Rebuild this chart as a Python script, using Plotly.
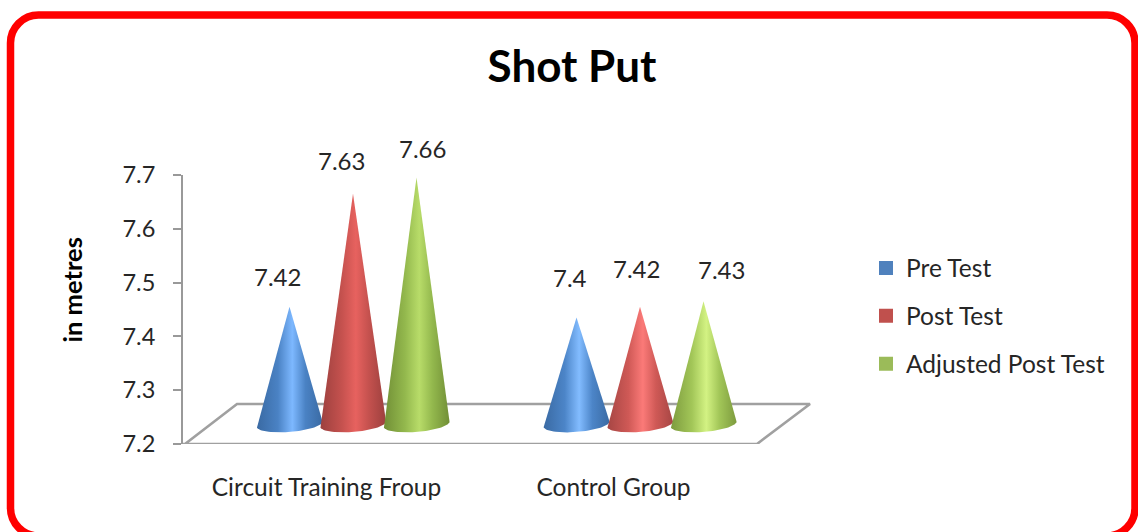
import numpy as np
import plotly.graph_objects as go

categories = ["Circuit Training Froup", "Control Group"]
series_names = ["Pre Test", "Post Test", "Adjusted Post Test"]
pre_test = [7.42, 7.40]
post_test = [7.63, 7.42]
adjusted_post_test = [7.66, 7.43]
y_ticks = [7.2, 7.3, 7.4, 7.5, 7.6, 7.7]
chart_title = "Shot Put"
y_title = "in metres"

W, H = 1138, 532
L, R, T, B = 183, 813, 175, 444
PX_X = 1 / 287
PX_Y = 0.5 / 269
FONT = "Lato"
INK = "#262626"

legend_colors = ["#4f81bd", "#c0504d", "#9bbb59"]
# (edge, body, highlight) per series and group
shades = [
    [("#3a6aa3", "#4a82c4", "#7db8ff"), ("#3a6aa3", "#4c85c8", "#82bcff")],
    [("#9c403e", "#c4514e", "#e7625f"), ("#a64644", "#cf5956", "#fb7a78")],
    [("#718f36", "#93b84d", "#b8dc69"), ("#7d9b3e", "#a2c658", "#d3f283")],
]
cone_offset_px = [-37, 26.5, 90]
cone_half_px = 33
depth_px = 19
label_dx = [[-12, -12, 6], [-7, -4, 18]]
label_dy = [[-30, -33, -29], [-40, -38, -32]]
values = [pre_test, post_test, adjusted_post_test]

fig = go.Figure()

# floor of the 3-D chart
floor_x = [0, 2 * PX_X, 54 * PX_X, 2 + 53 * PX_X, 2, 2 * PX_X]
floor_y = [7.2, 7.2, 7.2 + 40 * PX_Y, 7.2 + 40 * PX_Y, 7.2, 7.2]
fig.add_trace(go.Scatter(x=floor_x, y=floor_y, mode="lines", showlegend=False, hoverinfo="skip",
                         line=dict(color="#a0a0a0", width=2.6)))

theta = np.linspace(0, np.pi, 40)
annotations = []
for s, name in enumerate(series_names):
    for g, cat in enumerate(categories):
        cx = g + 0.5 + cone_offset_px[s] * PX_X
        tip = values[s][g] + depth_px * PX_Y
        base = 7.2 + 20 * PX_Y
        xs = np.r_[cx, cx - cone_half_px * PX_X * np.cos(theta), cx]
        ys = np.r_[tip, base - (2.5 * np.cos(theta) + 8 * np.sin(theta)) * PX_Y, tip]
        edge, body, mid = shades[s][g]
        fig.add_trace(go.Scatter(
            x=xs, y=ys, mode="lines", fill="toself", line=dict(width=0),
            fillgradient=dict(type="horizontal",
                              colorscale=[[0, edge], [0.32, body], [0.54, mid], [0.74, body], [1, edge]]),
            showlegend=False, name=name, hoverinfo="skip"))
        annotations.append(dict(x=cx, y=tip, xref="x", yref="y", text=f"{values[s][g]:g}", showarrow=False,
                                xshift=label_dx[g][s], yshift=-label_dy[g][s],
                                font=dict(family=FONT, size=24, color=INK)))

for name, color in zip(series_names, legend_colors):
    fig.add_trace(go.Scatter(x=[None], y=[None], mode="markers", name=name, legendgroup=name,
                             marker=dict(symbol="square", size=14, color=color)))


def px(x):
    return (x - L) / (R - L)


def py(y):
    return (B - y) / (B - T)


annotations.append(dict(x=px(71), y=py(290.5), xref="paper", yref="paper", xanchor="center", yanchor="middle",
                        text=y_title, textangle=-90, showarrow=False,
                        font=dict(family=FONT, size=25.5, color="#000000", weight="bold")))

x0, x1, y0, y1, r = 10.5, 1135, 15, 536, 28
k = 0.45 * r
border = (f"M {px(x0 + r)} {py(y0)} L {px(x1 - r)} {py(y0)} "
          f"C {px(x1 - k)} {py(y0)} {px(x1)} {py(y0 + k)} {px(x1)} {py(y0 + r)} "
          f"L {px(x1)} {py(y1 - r)} C {px(x1)} {py(y1 - k)} {px(x1 - k)} {py(y1)} {px(x1 - r)} {py(y1)} "
          f"L {px(x0 + r)} {py(y1)} C {px(x0 + k)} {py(y1)} {px(x0)} {py(y1 - k)} {px(x0)} {py(y1 - r)} "
          f"L {px(x0)} {py(y0 + r)} C {px(x0)} {py(y0 + k)} {px(x0 + k)} {py(y0)} {px(x0 + r)} {py(y0)} Z")

fig.update_layout(
    width=W, height=H, autosize=False,
    margin=dict(l=L, r=W - R, t=T, b=H - B, pad=0),
    paper_bgcolor="white", plot_bgcolor="white",
    title=dict(text=chart_title, x=572 / W, xanchor="center", y=1 - 67 / H, yanchor="middle",
               font=dict(family=FONT, size=44, color="#000000", weight="bold")),
    xaxis=dict(range=[0, (R - L) * PX_X], tickvals=[0.5, 1.5], ticktext=categories, showgrid=False,
               zeroline=False, showline=False, ticks="", ticklabelstandoff=26,
               tickfont=dict(family=FONT, size=24.5, color=INK)),
    yaxis=dict(range=[7.2, 7.7], tickvals=y_ticks, tickformat=".1f", showgrid=False, zeroline=False,
               showline=True, linecolor="#999999", linewidth=2, ticks="outside", ticklen=8, tickwidth=2,
               tickcolor="#999999", ticklabelstandoff=13,
               tickfont=dict(family=FONT, size=23.5, color=INK)),
    legend=dict(x=px(866), xanchor="left", y=py(316), yanchor="middle", tracegroupgap=13,
                bgcolor="rgba(0,0,0,0)", font=dict(family=FONT, size=24.5, color=INK)),
    shapes=[dict(type="path", xref="paper", yref="paper", path=border, line=dict(color="#ff0000", width=7.5),
                 fillcolor="rgba(0,0,0,0)")],
    annotations=annotations,
)
fig.write_html("out.html", post_script="document.body.style.margin='0';", config={"displayModeBar": False})
